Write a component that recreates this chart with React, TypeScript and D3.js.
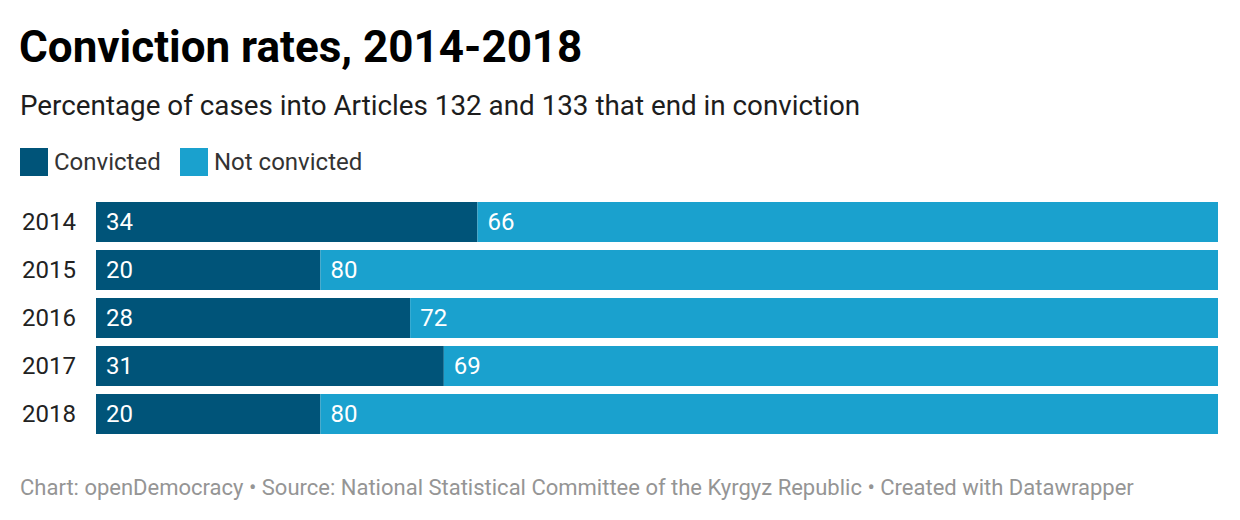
import React from "react";
import * as d3 from "d3";

const years = ["2014", "2015", "2016", "2017", "2018"];
const convicted = [34, 20, 28, 31, 20];
const notConvicted = [66, 80, 72, 69, 80];
const seriesNames = ["Convicted", "Not convicted"];
const seriesColors = ["#005479", "#1aa1ce"];

const title = "Conviction rates, 2014-2018";
const subtitle = "Percentage of cases into Articles 132 and 133 that end in conviction";
const footer =
  "Chart: openDemocracy \u2022 Source: National Statistical Committee of the Kyrgyz Republic \u2022 Created with Datawrapper";

const W = 1240;
const H = 520;
const FONT = "Roboto, 'Noto Sans', sans-serif";

export default function App() {
  const x = d3.scaleLinear().domain([0, 100]).range([96, 1218]);
  const y = d3
    .scaleBand<string>()
    .domain(years)
    .range([202, 434])
    .paddingInner(8 / 48)
    .paddingOuter(0);

  const legendX = [20, 180];

  return (
    <div style={{ position: "fixed", left: 0, top: 0, width: W, height: H, background: "#fff" }}>
      <svg width={W} height={H} style={{ display: "block", fontFamily: FONT }}>
        <rect width={W} height={H} fill="#fff" />
        <text x={19} y={62} fontSize={44} fontWeight={700} fill="#000">
          {title}
        </text>
        <text x={20} y={115} fontSize={27.8} fill="#1d1d1d">
          {subtitle}
        </text>
        {seriesNames.map((s, i) => (
          <g key={s}>
            <rect x={legendX[i]} y={148} width={28} height={28} fill={seriesColors[i]} />
            <text x={legendX[i] + 34} y={170} fontSize={24} fill="#333">
              {s}
            </text>
          </g>
        ))}
        {years.map((yr, i) => {
          const y0 = y(yr)!;
          const bh = y.bandwidth();
          const c = convicted[i];
          const n = notConvicted[i];
          return (
            <g key={yr}>
              <text x={76} y={y0 + bh / 2} dy="0.35em" textAnchor="end" fontSize={24} fill="#222">
                {yr}
              </text>
              <rect x={x(0)} y={y0} width={x(c) - x(0)} height={bh} fill={seriesColors[0]} />
              <rect x={x(c)} y={y0} width={x(c + n) - x(c)} height={bh} fill={seriesColors[1]} />
              <text x={x(0) + 10} y={y0 + bh / 2} dy="0.35em" fontSize={24} fill="#fff">
                {c}
              </text>
              <text x={x(c) + 10} y={y0 + bh / 2} dy="0.35em" fontSize={24} fill="#fff">
                {n}
              </text>
            </g>
          );
        })}
        <text x={20} y={495} fontSize={22} fill="#959595">
          {footer}
        </text>
      </svg>
    </div>
  );
}
